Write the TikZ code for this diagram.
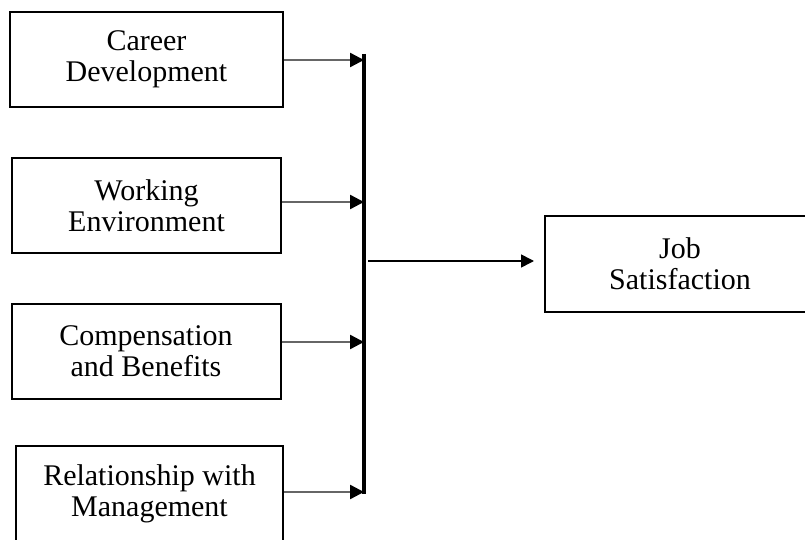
\documentclass[tikz,border=0pt]{standalone}
\usepackage{fontspec}
\setmainfont{Liberation Serif}
\usetikzlibrary{arrows.meta}

\begin{document}
\begin{tikzpicture}[
  x=0.5pt, y=-0.5pt,
  font=\fontsize{15}{15.5}\selectfont,
  >={Triangle[length=7pt,width=7pt,color=black]},
  factor/.style={draw,line width=1pt,minimum width=134.5pt,minimum height=47.5pt,align=center,inner sep=0pt},
  feed/.style={->,line width=1.2pt,draw=black!60},
  bus/.style={line width=2pt},
  flow/.style={->,line width=0.8pt,>={Triangle[length=6.5pt,width=6.5pt]},shorten >=5pt}
]
\useasboundingbox (0,0) rectangle (805,540);

\node[factor,minimum width=136.5pt] (c1) at (146.5,59.5) {Career\\Development};
\node[factor] (c2) at (146.5,205.5) {Working\\Environment};
\node[factor] (c3) at (146,351.5) {Compensation\\and Benefits};
\node[factor,minimum width=133.5pt] (c4) at (149.5,493.5) {Relationship with\\Management};
\node[factor,minimum width=135pt,minimum height=48pt] (js) at (680,264) {Job\\Satisfaction};

% collecting line
\coordinate (top) at (364,54);
\coordinate (bot) at (364,494);
\draw[bus] (top) -- (bot);

\foreach \n/\y in {1/60,2/202,3/342,4/492}{
  \coordinate (t\n) at (364,\y);
  \draw[feed] (c\n.east |- t\n) -- (t\n);
}

\coordinate (hub) at (368,261);
\draw[flow] (hub) -- (hub -| js.west);
\end{tikzpicture}
\end{document}
